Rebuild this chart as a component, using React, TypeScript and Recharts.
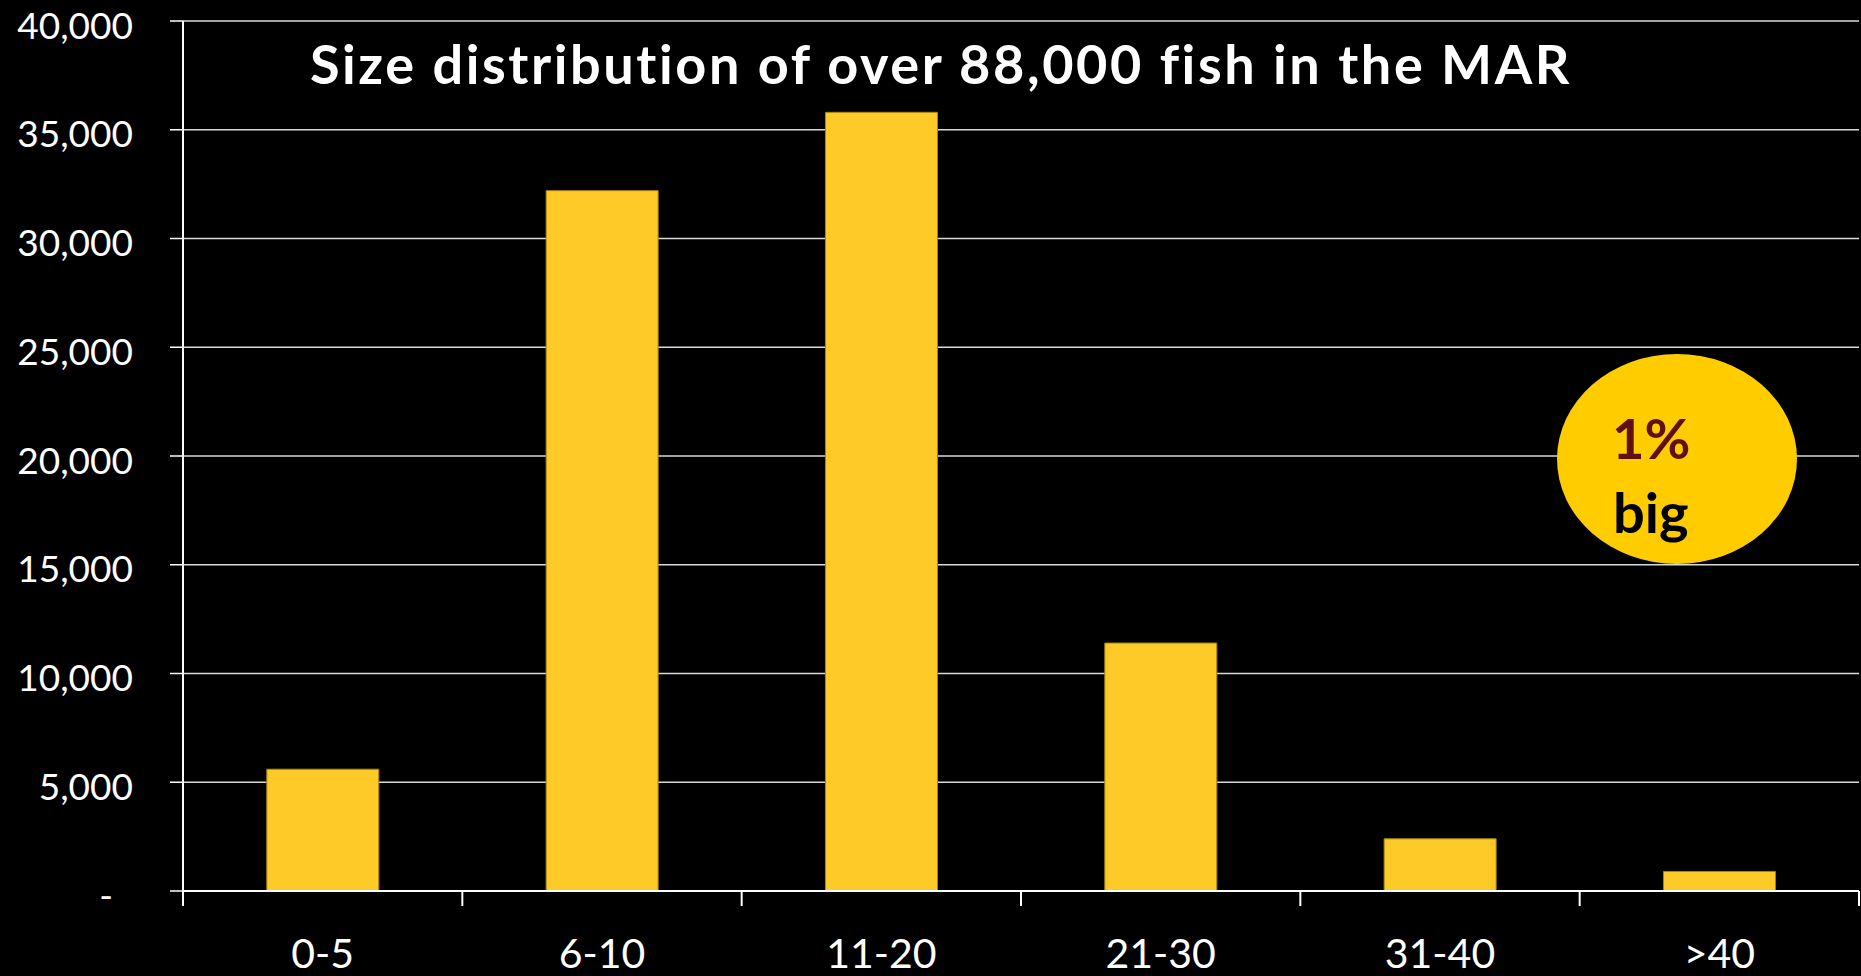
import React from 'react';
import { BarChart, Bar, XAxis, YAxis, CartesianGrid } from 'recharts';

const categories = ['0-5', '6-10', '11-20', '21-30', '31-40', '>40'];
const fishCounts = [5600, 32200, 35800, 11400, 2400, 900];
const yTicks = [0, 5000, 10000, 15000, 20000, 25000, 30000, 35000, 40000];
const titleText = 'Size distribution of over 88,000 fish in the MAR';
const calloutPercent = '1%';
const calloutWord = 'big';

const W = 1861;
const H = 976;
const MARGIN = { top: 21, right: 2, left: 0, bottom: 0 };
const Y_AXIS_WIDTH = 183;
const X_AXIS_HEIGHT = 85;
const plotWidth = W - MARGIN.left - MARGIN.right - Y_AXIS_WIDTH;
const bandWidth = plotWidth / categories.length;
const FONT = 'Lato, "Open Sans", sans-serif';

const data = categories.map((c, i) => ({ size: c, count: fishCounts[i] }));

const fmt = (v: number) => v.toLocaleString('en-US');

const XTick = (props: any) => {
  const { x, y, payload, index } = props;
  const half = bandWidth / 2;
  const last = index === categories.length - 1;
  return (
    <g>
      <line x1={x - half} y1={y} x2={x - half} y2={y + 15} stroke="#ffffff" strokeWidth={2} />
      {last && <line x1={x + half} y1={y} x2={x + half} y2={y + 15} stroke="#ffffff" strokeWidth={2} />}
      <text x={x} y={y + 77} textAnchor="middle" fill="#ffffff" fontSize={41} fontFamily={FONT}>
        {payload.value}
      </text>
    </g>
  );
};

const YTick = (props: any) => {
  const { x, y, payload } = props;
  const v = payload.value as number;
  return (
    <text
      x={v === 0 ? x - 20 : x}
      y={y}
      dy={17.5}
      textAnchor="end"
      fill="#ffffff"
      fontSize={37}
      fontFamily={FONT}
    >
      {v === 0 ? '-' : fmt(v)}
    </text>
  );
};

export default function App() {
  return (
    <div style={{ position: 'absolute', left: 0, top: 0, width: W, height: H, background: '#000000' }}>
      <BarChart width={W} height={H} data={data} margin={MARGIN} barCategoryGap="30%">
        <CartesianGrid vertical={false} stroke="#D9D9D9" strokeWidth={1.5} />
        <XAxis
          dataKey="size"
          height={X_AXIS_HEIGHT}
          interval={0}
          tickLine={false}
          tickSize={0}
          tickMargin={0}
          axisLine={{ stroke: '#ffffff', strokeWidth: 2 }}
          tick={<XTick />}
        />
        <YAxis
          width={Y_AXIS_WIDTH}
          domain={[0, 40000]}
          ticks={yTicks}
          interval={0}
          tickSize={13}
          tickMargin={37}
          tickLine={{ stroke: '#ffffff', strokeWidth: 1.5 }}
          axisLine={{ stroke: '#ffffff', strokeWidth: 2 }}
          tick={<YTick />}
        />
        <Bar dataKey="count" fill="#FDCA28" stroke="#A8850F" strokeWidth={1} isAnimationActive={false} />
      </BarChart>
      <svg
        width={W}
        height={H}
        style={{ position: 'absolute', left: 0, top: 0, pointerEvents: 'none' }}
      >
        <text
          x={941}
          y={84}
          textAnchor="middle"
          fill="#ffffff"
          fontSize={54}
          letterSpacing={2.6}
          fontWeight={700}
          fontFamily={FONT}
        >
          {titleText}
        </text>
        <ellipse cx={1677} cy={459} rx={120} ry={105} fill="#FFCC00" />
        <text x={1612} y={459} fill="#601010" fontSize={56} fontWeight={700} fontFamily={FONT}>
          {calloutPercent}
        </text>
        <text x={1613} y={533} fill="#000000" fontSize={56} fontWeight={700} fontFamily={FONT}>
          {calloutWord}
        </text>
      </svg>
    </div>
  );
}
